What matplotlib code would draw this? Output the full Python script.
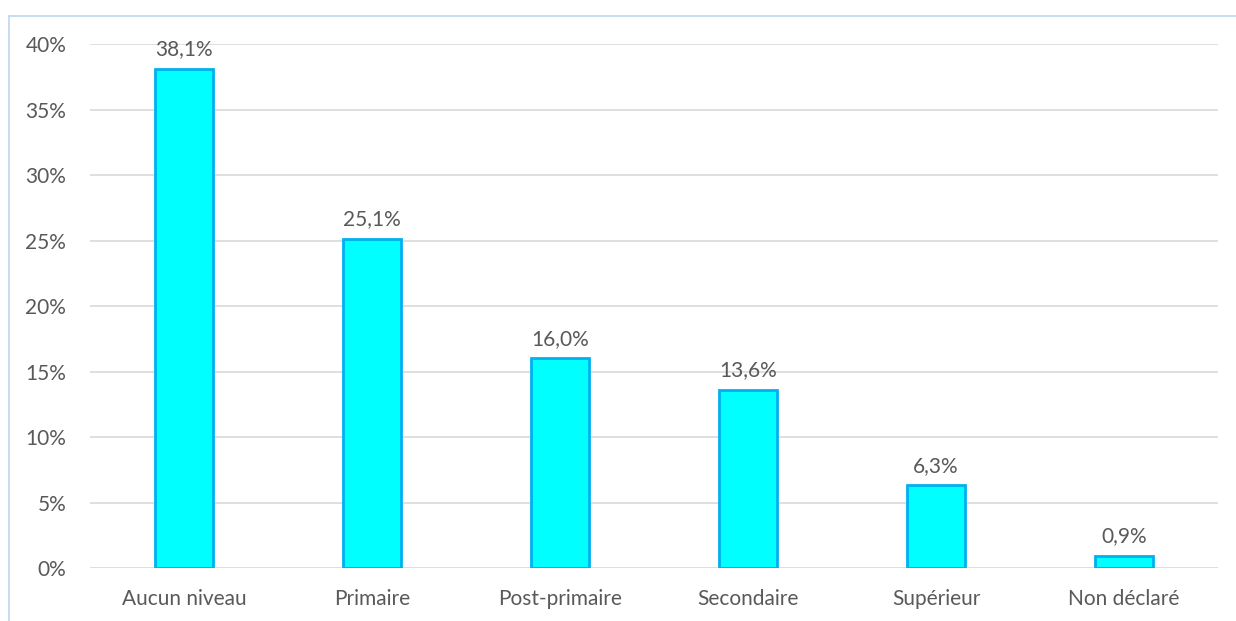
import matplotlib.pyplot as plt
from matplotlib.ticker import FuncFormatter
from matplotlib.lines import Line2D

categories = ["Aucun niveau", "Primaire", "Post-primaire", "Secondaire", "Supérieur", "Non déclaré"]
values = [38.1, 25.1, 16.0, 13.6, 6.3, 0.9]
yticks = [0, 5, 10, 15, 20, 25, 30, 35, 40]

plt.rcParams['font.family'] = ['Lato', 'DejaVu Sans']
txt = '#595959'
fs = 15

fig = plt.figure(figsize=(12.36, 6.21), dpi=100)
ax = fig.add_axes([0.0728, 0.0853, 0.9126, 0.8438])

x = range(len(categories))
ax.bar(x, values, width=0.31, color='#00FFFF', edgecolor='#00B0F0', linewidth=2, zorder=3)

for i, v in zip(x, values):
    ax.annotate(f"{v:.1f}%".replace('.', ','), (i, v), xytext=(0, 7),
                textcoords='offset points', ha='center', va='bottom',
                fontsize=fs, color=txt, annotation_clip=False)

ax.set_xlim(-0.5, len(categories) - 0.5)
ax.set_ylim(0, 40)
ax.set_yticks(yticks)
ax.yaxis.set_major_formatter(FuncFormatter(lambda v, p: f"{int(v)}%"))
ax.set_xticks(list(x))
ax.set_xticklabels(categories)
ax.tick_params(axis='both', length=0, labelsize=fs, labelcolor=txt)
ax.tick_params(axis='y', pad=17)
ax.tick_params(axis='x', pad=15)
ax.grid(axis='y', color='#D9D9D9', linewidth=1.2, zorder=0)
for s in ax.spines.values():
    s.set_visible(False)

# thin frame around the chart area
fig.add_artist(Line2D([0.0073, 0.0073], [-0.01, 0.9742], color='#BDD7EE', linewidth=1.2))
fig.add_artist(Line2D([0.0073, 1.01], [0.9742, 0.9742], color='#BDD7EE', linewidth=1.2))

fig.savefig('out.png', dpi=100)
